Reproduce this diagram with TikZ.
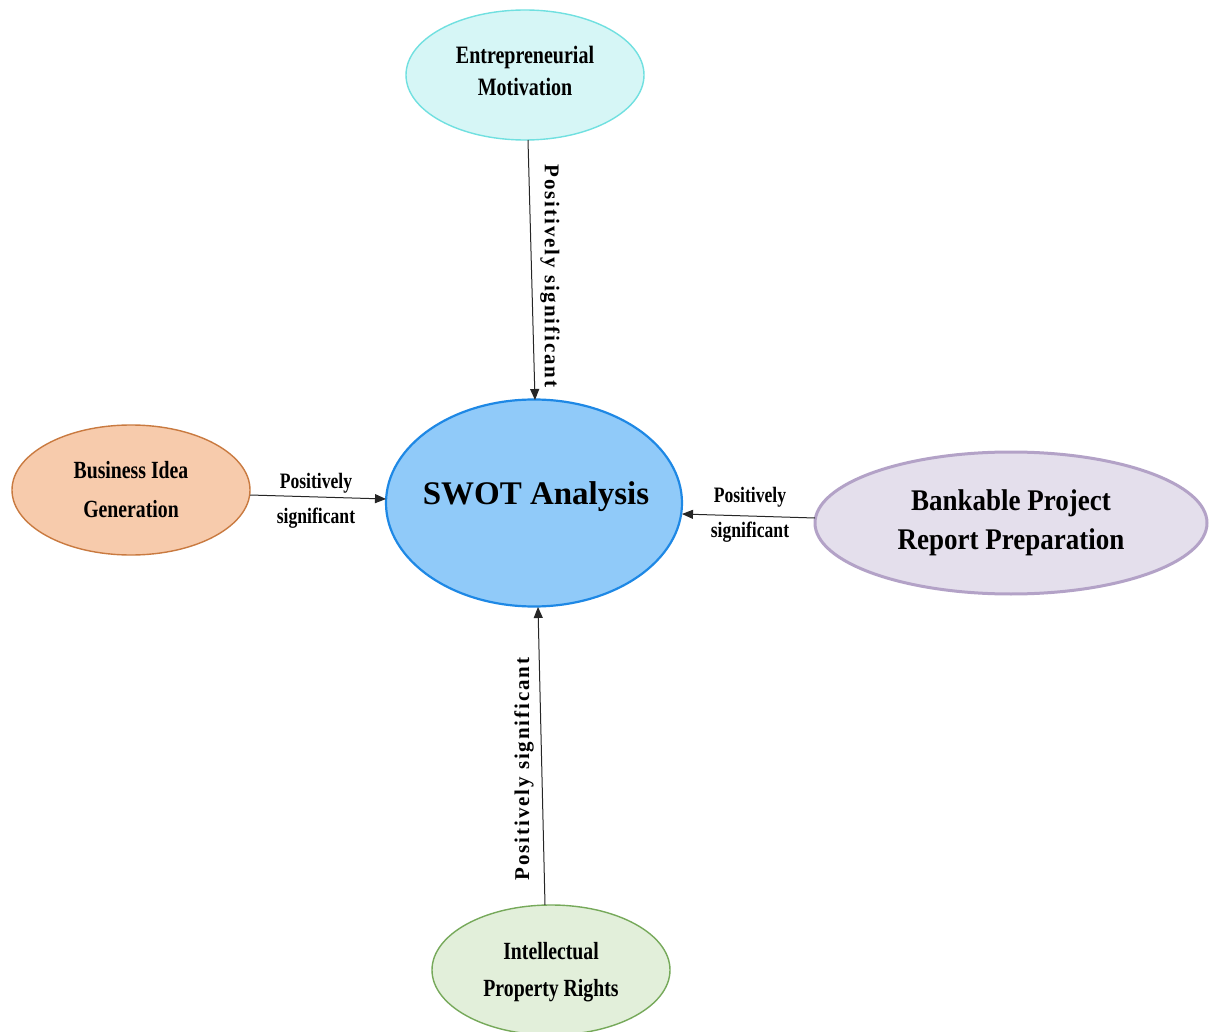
\documentclass[tikz,border=0pt]{standalone}
\usepackage{fontspec}
\setmainfont{Liberation Serif}
\newfontfamily\narrowserif[FakeStretch=0.8]{Liberation Serif}
\newfontfamily\midserif[FakeStretch=0.9]{Liberation Serif}
\newfontfamily\spacedserif[LetterSpace=9]{Liberation Serif}
\usetikzlibrary{shapes.geometric,arrows.meta}
\definecolor{emfill}{HTML}{D6F6F6}
\definecolor{emline}{HTML}{70E0E0}
\definecolor{bifill}{HTML}{F7CBAC}
\definecolor{biline}{HTML}{C97A40}
\definecolor{swfill}{HTML}{90CAF9}
\definecolor{swline}{HTML}{1E88E5}
\definecolor{bkfill}{HTML}{E4DFEC}
\definecolor{bkline}{HTML}{B3A2C7}
\definecolor{ipfill}{HTML}{E2EFDA}
\definecolor{ipline}{HTML}{76A95A}
\tikzset{
  blob/.style={ellipse, inner sep=0pt, align=center, line width=1.4pt},
  link/.style={draw=black!85, line width=1pt, -{Triangle[length=11pt,width=9pt]}},
  tag/.style={font=\narrowserif\bfseries\fontsize{22}{35}\selectfont, align=center, inner sep=0pt},
  vtag/.style={font=\spacedserif\bfseries\fontsize{21}{24}\selectfont, inner sep=0pt},
}
\begin{document}
\begin{tikzpicture}[x=1pt,y=-1pt]
  \useasboundingbox[fill=white] (0,0) rectangle (1211,1032);
  % factor ellipses
  \node[blob, draw=emline, fill=emfill, minimum width=238pt, minimum height=130pt] (em) at (525,75) {};
  \node[font=\narrowserif\bfseries\fontsize{25}{32}\selectfont, align=center] (emtext) at (525,71)
        {Entrepreneurial\\Motivation};
  \node[blob, draw=biline, fill=bifill, minimum width=238pt, minimum height=130pt,
        font=\narrowserif\bfseries\fontsize{24.7}{39}\selectfont] (bi) at (131,490)
        {Business Idea\\Generation};
  \node[blob, draw=swline, fill=swfill, line width=2.2pt, minimum width=296pt, minimum height=207pt] (sw) at (534,503) {};
  \node[font=\bfseries\fontsize{33}{36}\selectfont] (swtext) at (536,497) {SWOT Analysis};
  \node[blob, draw=bkline, fill=bkfill, line width=3pt, minimum width=392pt, minimum height=142pt,
        font=\midserif\bfseries\fontsize{30}{39}\selectfont] (bk) at (1011,523)
        {Bankable Project\\Report Preparation};
  \node[blob, draw=ipline, fill=ipfill, minimum width=238pt, minimum height=130pt] (ip) at (551,970) {};
  \node[font=\narrowserif\bfseries\fontsize{24.7}{37}\selectfont, align=center] (iptext) at (551,972)
        {Intellectual\\Property Rights};
  % influence arrows
  \coordinate (emout) at (528,140);
  \coordinate (swtop) at (535,400);
  \draw[link] (emout) -- (swtop);
  \node[vtag, rotate=-90] (t1) at (550,276) {Positively significant};
  \coordinate (biout) at (250,495);
  \coordinate (swleft) at (386,499);
  \draw[link] (biout) -- (swleft);
  \node[tag] (t2) at (316,501) {Positively\\significant};
  \coordinate (bkout) at (815,518);
  \coordinate (swright) at (682,514);
  \draw[link] (bkout) -- (swright);
  \node[tag] (t3) at (750,515) {Positively\\significant};
  \coordinate (ipout) at (545,905);
  \coordinate (swbot) at (538,607);
  \draw[link] (ipout) -- (swbot);
  \node[vtag, rotate=90] (t4) at (524,769) {Positively significant};
\end{tikzpicture}
\end{document}
